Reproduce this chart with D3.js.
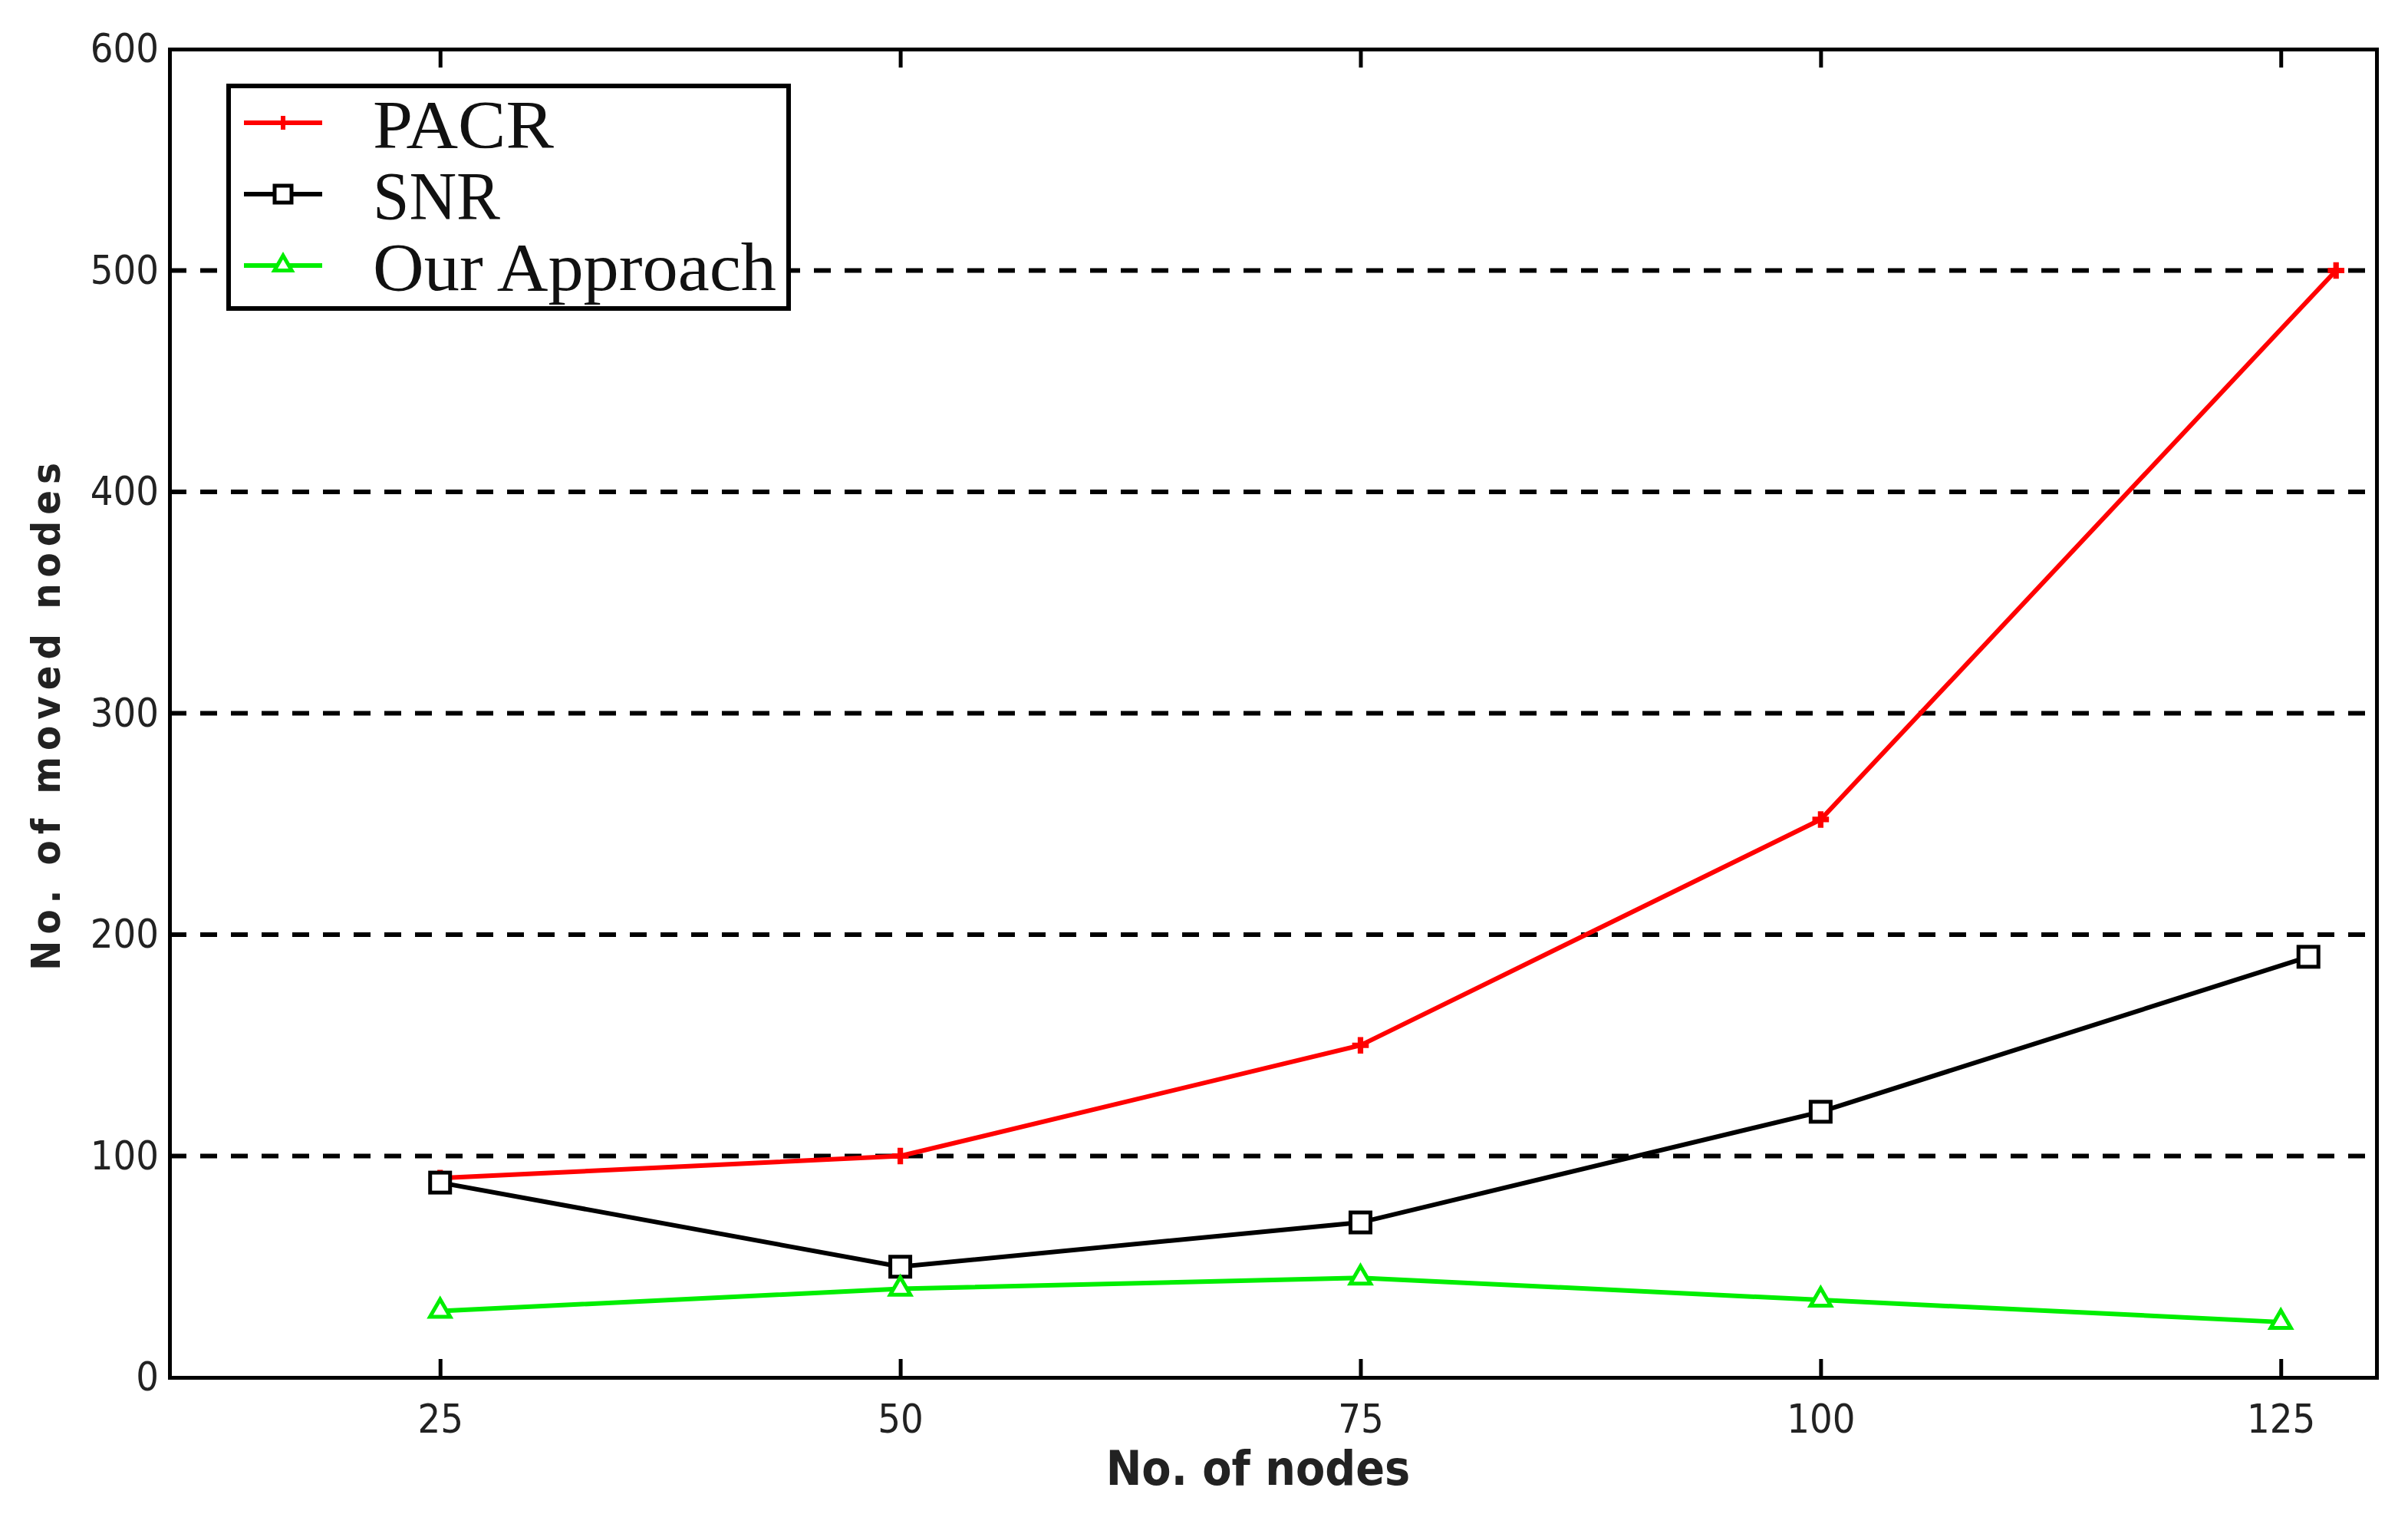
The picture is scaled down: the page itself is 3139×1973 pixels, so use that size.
<!DOCTYPE html>
<html><head><meta charset="utf-8">
<script src="https://cdn.jsdelivr.net/npm/d3@7"></script>
<style>body{margin:0;background:#fff}</style></head>
<body><svg id="c" width="3139" height="1973"></svg>
<script>
const nodes = [25, 50, 75, 100, 125];
const pacrX = [25, 50, 75, 100, 128];
const pacr = [90, 100, 150, 252, 500];
const snrX = [25, 50, 75, 100, 126.5];
const snr = [88, 50, 70, 120, 190];
const oursX = [25, 50, 75, 100, 125];
const ours = [30, 40, 45, 35, 25];
const yTicks = [0, 100, 200, 300, 400, 500, 600];
const gridTicks = [100, 200, 300, 400, 500];

const svg = d3.select("#c");
const L = 221, R = 3098, T = 64, B = 1795;
const x = d3.scaleLinear().domain([10.3, 130.2]).range([L, R]);
const y = d3.scaleLinear().domain([0, 600]).range([B, T]);
const tickFont = "'Liberation Sans Narrow','DejaVu Sans Condensed',sans-serif";

// grid
svg.selectAll("line.grid").data(gridTicks).enter().append("line")
  .attr("x1", L).attr("x2", R).attr("y1", d => y(d)).attr("y2", d => y(d))
  .attr("stroke", "#000").attr("stroke-width", 6).attr("stroke-dasharray", "22,18");

// axes
const ax = svg.append("g").attr("transform", `translate(0,${B})`)
  .call(d3.axisBottom(x).tickValues(nodes).tickSize(-24).tickPadding(36));
const axTop = svg.append("g").attr("transform", `translate(0,${T})`)
  .call(d3.axisTop(x).tickValues(nodes).tickSize(-24).tickFormat(""));
const ay = svg.append("g").attr("transform", `translate(${L},0)`)
  .call(d3.axisLeft(y).tickValues(yTicks).tickSize(0).tickPadding(14));
const ayR = svg.append("g").attr("transform", `translate(${R},0)`)
  .call(d3.axisRight(y).tickValues(yTicks).tickSize(0).tickFormat(""));
[ax, axTop, ay, ayR].forEach(g => {
  g.select(".domain").attr("stroke", "#000").attr("stroke-width", 5);
  g.selectAll(".tick line").attr("stroke", "#000").attr("stroke-width", 5);
  g.selectAll("text").attr("font-family", tickFont).attr("font-size", 52).attr("fill", "#222");
});
ax.selectAll(".tick text").attr("dy", "0.7em");

// lines
function series(xs, ys, color) {
  const pts = xs.map((v, i) => [v, ys[i]]);
  svg.append("path").datum(pts)
    .attr("d", d3.line().x(d => x(d[0])).y(d => y(d[1])))
    .attr("fill", "none").attr("stroke", color).attr("stroke-width", 6);
  return pts;
}
const p1 = series(pacrX, pacr, "#ff0000");
const p2 = series(snrX, snr, "#000");
const p3 = series(oursX, ours, "#00ee00");

svg.selectAll("path.m1").data(p1).enter().append("path")
  .attr("transform", d => `translate(${x(d[0])},${y(d[1])})`)
  .attr("d", d3.symbol(d3.symbolCross, 260)).attr("fill", "#ff0000");
svg.selectAll("rect.m2").data(p2).enter().append("rect")
  .attr("x", d => x(d[0]) - 13).attr("y", d => y(d[1]) - 13).attr("width", 26).attr("height", 26)
  .attr("fill", "#fff").attr("stroke", "#000").attr("stroke-width", 5);
svg.selectAll("path.m3").data(p3).enter().append("path")
  .attr("transform", d => `translate(${x(d[0])},${y(d[1])})`)
  .attr("d", d3.symbol(d3.symbolTriangle, 300)).attr("fill", "#fff")
  .attr("stroke", "#00ee00").attr("stroke-width", 5);

// legend
const names = ["PACR", "SNR", "Our Approach"];
const colors = ["#ff0000", "#000", "#00ee00"];
const lg = svg.append("g");
lg.append("rect").attr("x", 298).attr("y", 112).attr("width", 730).attr("height", 290)
  .attr("fill", "#fff").attr("stroke", "#000").attr("stroke-width", 6);
names.forEach((n, i) => {
  const cy = 160 + i * 93;
  lg.append("line").attr("x1", 318).attr("x2", 420).attr("y1", cy).attr("y2", cy)
    .attr("stroke", colors[i]).attr("stroke-width", 6);
  if (i === 0) lg.append("path").attr("transform", `translate(369,${cy})`)
    .attr("d", d3.symbol(d3.symbolCross, 180)).attr("fill", colors[i]);
  if (i === 1) lg.append("rect").attr("x", 358).attr("y", cy - 11).attr("width", 22).attr("height", 22)
    .attr("fill", "#fff").attr("stroke", "#000").attr("stroke-width", 5);
  if (i === 2) lg.append("path").attr("transform", `translate(369,${cy})`)
    .attr("d", d3.symbol(d3.symbolTriangle, 220)).attr("fill", "#fff")
    .attr("stroke", colors[i]).attr("stroke-width", 5);
  lg.append("text").attr("x", 486).attr("y", cy + 32).text(n)
    .attr("font-family", "'Liberation Serif',serif").attr("font-size", 88).attr("fill", "#111")
    .attr("textLength", [236, 166, 526][i]).attr("lengthAdjust", "spacingAndGlyphs");
});

// axis titles
svg.append("text").attr("x", 1640).attr("y", 1935).attr("text-anchor", "middle")
  .attr("font-family", tickFont).attr("font-weight", "bold").attr("font-size", 62).attr("fill", "#222")
  .text("No. of nodes");
svg.append("text").attr("transform", "translate(78,930) rotate(-90)").attr("text-anchor", "middle")
  .attr("font-family", tickFont).attr("font-weight", "bold").attr("font-size", 52).attr("fill", "#222")
  .attr("letter-spacing", 8).text("No. of moved nodes");
</script></body></html>
